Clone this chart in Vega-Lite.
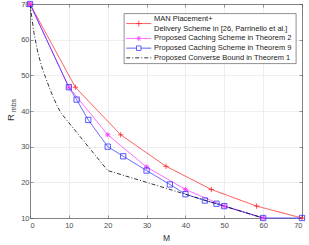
{
  "$schema": "https://vega.github.io/schema/vega-lite/v6.json",
  "width": 272,
  "height": 214,
  "autosize": "none",
  "padding": {"left": 30, "top": 4, "right": 7, "bottom": 27},
  "background": "white",
  "config": {
    "view": {"stroke": null},
    "font": "Liberation Sans",
    "axis": {
      "labelFont": "Liberation Sans",
      "labelFontSize": 7.5,
      "labelColor": "#4d4d4d",
      "titleFont": "Liberation Sans",
      "titleFontWeight": "normal",
      "titleColor": "#333333",
      "domainColor": "#555555",
      "domainWidth": 0.7,
      "tickColor": "#555555",
      "tickWidth": 0.6,
      "tickSize": -3,
      "gridColor": "#e3e3e3",
      "gridWidth": 0.6
    }
  },
  "data": {
    "values": [
      {"s": "A", "M": 0, "R": 70},
      {"s": "A", "M": 11.67, "R": 46.67},
      {"s": "A", "M": 23.33, "R": 33.33},
      {"s": "A", "M": 35, "R": 24.5},
      {"s": "A", "M": 46.67, "R": 18},
      {"s": "A", "M": 58.33, "R": 13.33},
      {"s": "A", "M": 70, "R": 10},
      {"s": "B", "M": 0, "R": 70},
      {"s": "B", "M": 10, "R": 46.67},
      {"s": "B", "M": 20, "R": 33.33},
      {"s": "B", "M": 30, "R": 24.3},
      {"s": "B", "M": 40, "R": 18},
      {"s": "B", "M": 50, "R": 13.33},
      {"s": "B", "M": 60, "R": 10},
      {"s": "C", "M": 0, "R": 70},
      {"s": "C", "M": 10, "R": 46.67},
      {"s": "C", "M": 12, "R": 43.2},
      {"s": "C", "M": 15, "R": 37.5},
      {"s": "C", "M": 20, "R": 30},
      {"s": "C", "M": 24, "R": 27.3},
      {"s": "C", "M": 30, "R": 23.3},
      {"s": "C", "M": 36, "R": 19.4},
      {"s": "C", "M": 40, "R": 16.67},
      {"s": "C", "M": 45, "R": 14.9},
      {"s": "C", "M": 48, "R": 14},
      {"s": "C", "M": 50, "R": 13.33},
      {"s": "C", "M": 60, "R": 10},
      {"s": "C", "M": 70, "R": 10},
      {"s": "D", "M": 0, "R": 70},
      {"s": "D", "M": 1, "R": 62},
      {"s": "D", "M": 2, "R": 56.5},
      {"s": "D", "M": 3, "R": 52.5},
      {"s": "D", "M": 4, "R": 49.4},
      {"s": "D", "M": 5, "R": 46.5},
      {"s": "D", "M": 6, "R": 43.8},
      {"s": "D", "M": 7, "R": 41.4},
      {"s": "D", "M": 8, "R": 39.4},
      {"s": "D", "M": 10, "R": 36.7},
      {"s": "D", "M": 20, "R": 23.3},
      {"s": "D", "M": 30, "R": 20},
      {"s": "D", "M": 40, "R": 16.67},
      {"s": "D", "M": 50, "R": 13.33},
      {"s": "D", "M": 60, "R": 10}
    ]
  },
  "layer": [
    {
      "mark": {"type": "line", "strokeWidth": 0.8},
      "encoding": {
        "x": {
          "field": "M", "type": "quantitative",
          "scale": {"domain": [0, 70], "nice": false, "zero": false},
          "axis": {"values": [0, 10, 20, 30, 40, 50, 60, 70], "title": "M", "titleFontSize": 8.5, "titlePadding": 5, "labelPadding": 6, "grid": true}
        },
        "y": {
          "field": "R", "type": "quantitative",
          "scale": {"domain": [10, 70], "nice": false, "zero": false},
          "axis": {"values": [10, 20, 30, 40, 50, 60, 70], "title": "R", "titleFontSize": 9.5, "titleAngle": -90, "titleX": -20, "titleY": 113, "titleAlign": "center", "titleBaseline": "middle", "labelPadding": 4, "grid": true}
        },
        "color": {
          "field": "s", "type": "nominal",
          "scale": {"domain": ["A", "B", "C", "D"], "range": ["#ff2020", "#ff30ff", "#3030ff", "#000000"]},
          "legend": {
            "orient": "none",
            "legendX": 94,
            "legendY": 9.5,
            "title": null,
            "padding": 1.5,
            "fillColor": "white",
            "strokeColor": "#444444",
            "symbolSize": 36,
            "symbolStrokeWidth": 0.8,
            "symbolType": "M-1,0H7.333",
            "labelFont": "Liberation Sans",
            "labelFontSize": 7.5,
            "labelColor": "#222222",
            "labelOffset": 21,
            "rowPadding": 0.7,
            "labelLimit": 300,
            "labelExpr": "datum.value == 'A' ? ['MAN Placement+', 'Delivery Scheme in [26, Parrinello et al.]'] : datum.value == 'B' ? 'Proposed Caching Scheme in  Theorem 2' : datum.value == 'C' ? 'Proposed Caching Scheme in Theorem 9' : 'Proposed Converse Bound in Theorem 1'",
            "encode": {
              "legend": {"update": {"strokeWidth": {"value": 0.6}}},
              "labels": {"update": {"lineHeight": {"value": 10.3}}},
              "symbols": {"update": {
                "fill": {"value": "transparent"},
                "shape": {"signal": "datum.value == 'A' ? 'M-1,1.6H7.333M3.167,0.6V2.6M2.167,1.6H4.167' : datum.value == 'B' ? 'M-1,0H7.333M3.167,-0.833V0.833M2.578,-0.589L3.756,0.589M2.578,0.589L3.756,-0.589' : datum.value == 'C' ? 'M-1,0H2.417M3.917,0H7.333M2.417,-0.75H3.917V0.75H2.417Z' : 'M-1,0H7.333'"},
                "strokeDash": {"signal": "datum.value == 'D' ? [4,2,1,2] : [1,0]"}
              }}
            }
          }
        },
        "strokeDash": {
          "field": "s", "type": "nominal",
          "scale": {"domain": ["A", "B", "C", "D"], "range": [[1, 0], [1, 0], [1, 0], [4, 2, 1, 2]]},
          "legend": null
        },
        "order": {"field": "M", "type": "quantitative"}
      }
    },
    {
      "transform": [{"filter": "datum.s != 'D'"}],
      "mark": {"type": "point", "filled": false, "size": 28, "strokeWidth": 0.8, "opacity": 1},
      "encoding": {
        "x": {
          "field": "M", "type": "quantitative",
          "axis": {"orient": "top", "values": [0, 10, 20, 30, 40, 50, 60, 70], "labels": false, "title": null, "grid": false}
        },
        "y": {
          "field": "R", "type": "quantitative",
          "axis": {"orient": "right", "values": [10, 20, 30, 40, 50, 60, 70], "labels": false, "grid": false, "title": "mbs", "titleFontSize": 7, "titleAngle": -90, "titleX": -289, "titleY": 101, "titleAlign": "center", "titleBaseline": "middle"}
        },
        "color": {"field": "s", "type": "nominal"},
        "shape": {
          "field": "s", "type": "nominal",
          "scale": {"domain": ["A", "B", "C"], "range": ["M-1,0H1M0,-1V1", "M-1,0H1M0,-1V1M-0.7,-0.7L0.7,0.7M-0.7,0.7L0.7,-0.7", "square"]},
          "legend": null
        }
      }
    }
  ],
  "resolve": {"axis": {"x": "independent", "y": "independent"}}
}
